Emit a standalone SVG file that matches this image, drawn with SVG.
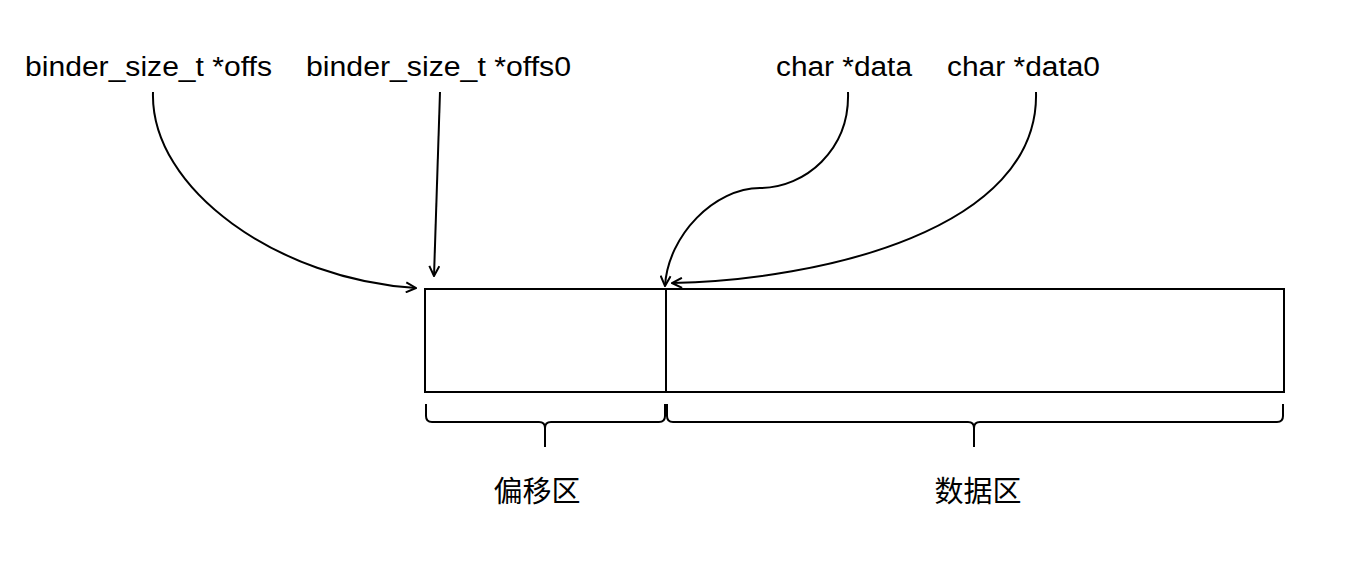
<svg xmlns="http://www.w3.org/2000/svg" width="1349" height="573" viewBox="0 0 1349 573">
<style>
.lbl{font-family:"Liberation Sans",Arial,sans-serif;font-size:27px;fill:#000}
.cjk{font-family:"Liberation Sans","Noto Sans CJK SC",sans-serif;font-size:29px;fill:#000}
.ln{fill:none;stroke:#000;stroke-width:2}
</style>
<defs>
<marker id="ah" viewBox="0 0 12 12" refX="11" refY="6" markerWidth="12" markerHeight="12" markerUnits="userSpaceOnUse" orient="auto">
<path d="M1 1 L11 6 L1 11" fill="none" stroke="#000" stroke-width="2"/>
</marker>
</defs>
<rect width="1349" height="573" fill="#fff"/>
<g id="node-buffer">
<rect x="425" y="289" width="859" height="103" class="ln"/>
<line x1="666" y1="289" x2="666" y2="392" class="ln"/>
</g>
<g id="node-offs"><text class="lbl" x="25" y="76" textLength="247" lengthAdjust="spacingAndGlyphs">binder_size_t *offs</text></g>
<g id="node-offs0"><text class="lbl" x="306" y="76" textLength="265" lengthAdjust="spacingAndGlyphs">binder_size_t *offs0</text></g>
<g id="node-data"><text class="lbl" x="776" y="76" textLength="136" lengthAdjust="spacingAndGlyphs">char *data</text></g>
<g id="node-data0"><text class="lbl" x="947" y="76" textLength="153" lengthAdjust="spacingAndGlyphs">char *data0</text></g>
<g id="node-offset-area">
<path class="ln" d="M426 404 L426 416 Q426 422 432 422 L539 422 Q545 422 545 428 L545 447 M545 428 Q545 422 551 422 L659 422 Q665 422 665 416 L665 404"/>
<text class="cjk" x="537" y="502" text-anchor="middle">偏移区</text>
</g>
<g id="node-data-area">
<path class="ln" d="M667 404 L667 416 Q667 422 673 422 L968 422 Q974 422 974 428 L974 447 M974 428 Q974 422 980 422 L1277 422 Q1283 422 1283 416 L1283 404"/>
<text class="cjk" x="978" y="502" text-anchor="middle">数据区</text>
</g>
<g id="connectors">
<path class="ln" marker-end="url(#ah)" d="M153 92 C150 190 280 280 416 288"/>
<path class="ln" marker-end="url(#ah)" d="M440 92 L434 276"/>
<path class="ln" marker-end="url(#ah)" d="M848 92 C850 150 805 188 760 188 C715 188 668 235 665 286"/>
<path class="ln" marker-end="url(#ah)" d="M1036 92 C1040 230 820 280 672 283"/>
</g>
</svg>
